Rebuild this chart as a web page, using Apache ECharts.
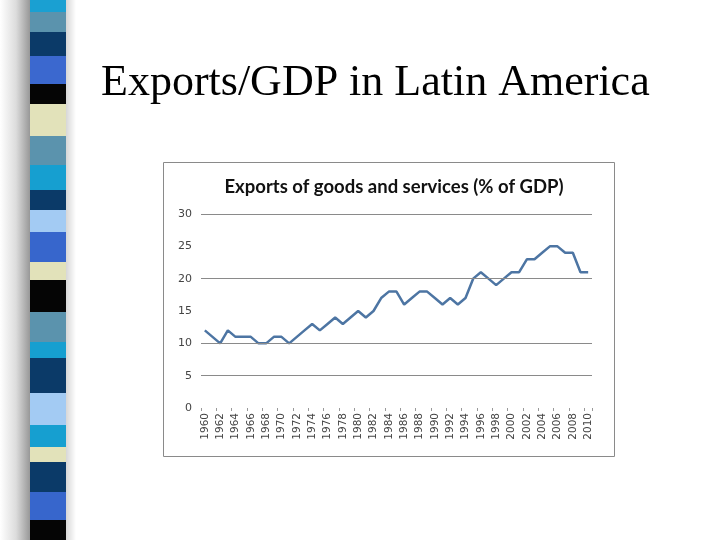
<!DOCTYPE html>
<html>
<head>
<meta charset="utf-8">
<script src="https://cdn.jsdelivr.net/npm/echarts@6/dist/echarts.min.js"></script>
<style>
html,body{margin:0;padding:0;background:#fff;}
#c{width:720px;height:540px;}
</style>
</head>
<body>
<div id="c"></div>
<script>
const years = [];
for (let y = 1960; y <= 2010; y++) years.push(String(y));
const exportsPct = [12,11,10,12,11,11,11,10,10,11,11,10,11,12,13,12,13,14,13,14,15,14,15,17,18,18,16,17,18,18,17,16,17,16,17,20,21,20,19,20,21,21,23,23,24,25,25,24,24,21,21];
const gridValues = [30, 20, 10, 5];

const stripColors = ['#1aa0d2','#5b93ad','#0b3a68','#3b68cf','#050505','#e2e2ba','#5b93ad','#169fd0','#0b3a68','#a3cbf3','#3766cc','#e2e2ba','#050505','#5b93ad','#169fd0','#0b3a68','#a3cbf3','#169fd0','#e2e2ba','#0b3a68','#3766cc','#050505'];
const stripEdges = [0,12,32,56,84,104,136,165,190,210,232,262,280,312,342,358,393,425,447,462,492,520,540];

const graphics = [];
graphics.push({type:'rect', shape:{x:0,y:0,width:32,height:540}, style:{fill:new echarts.graphic.LinearGradient(0,0,1,0,[{offset:0,color:'#ffffff'},{offset:0.5,color:'#dcdcdc'},{offset:1,color:'#8e8e8e'}])}, z:0});
graphics.push({type:'rect', shape:{x:64,y:0,width:12,height:540}, style:{fill:new echarts.graphic.LinearGradient(0,0,1,0,[{offset:0,color:'#cfcfcf'},{offset:1,color:'#ffffff'}])}, z:0});
for (let i = 0; i < stripColors.length; i++) {
  graphics.push({type:'rect', shape:{x:30,y:stripEdges[i],width:36,height:stripEdges[i+1]-stripEdges[i]}, style:{fill:stripColors[i]}, z:1});
}
graphics.push({type:'text', left:101, top:61, style:{text:'Exports/GDP in Latin America', font:'44px "Liberation Serif", "Times New Roman", serif', fill:'#000'}, z:2});
graphics.push({type:'rect', shape:{x:163.5,y:162.5,width:451,height:294}, style:{fill:'none', stroke:'#8a8a8a', lineWidth:1}, z:1});

const chart = echarts.init(document.getElementById('c'));
chart.setOption({
  animation:false,
  backgroundColor:'#fff',
  graphic: graphics,
  title:{
    text:'Exports of goods and services (% of GDP)',
    left:389, top:173, textAlign:'center',
    textStyle:{fontFamily:'Lato, "Open Sans", sans-serif', fontWeight:'bold', fontSize:18.5, color:'#111'}
  },
  grid:{left:201, right:128, top:214, bottom:132, containLabel:false},
  xAxis:{
    type:'category', data:years, boundaryGap:true,
    axisLine:{show:false},
    axisTick:{show:true, interval:1, length:3, lineStyle:{color:'#999'}},
    axisLabel:{interval:1, rotate:90, fontSize:10.5, color:'#444', margin:5, fontFamily:'"DejaVu Sans", sans-serif'},
    splitLine:{show:false}
  },
  yAxis:{
    type:'value', min:0, max:30, interval:5,
    axisLine:{show:false}, axisTick:{show:false},
    axisLabel:{fontSize:11, color:'#444', margin:9, fontFamily:'"DejaVu Sans", sans-serif'},
    splitLine:{show:false}
  },
  series:[{
    type:'line', data:exportsPct, symbol:'none',
    lineStyle:{color:'#4d75a3', width:2.5},
    markLine:{
      silent:true, symbol:['none','none'], label:{show:false},
      lineStyle:{color:'#8a8a8a', type:'solid', width:1},
      data: gridValues.map(v => ({yAxis:v}))
    }
  }]
});
</script>
</body>
</html>
